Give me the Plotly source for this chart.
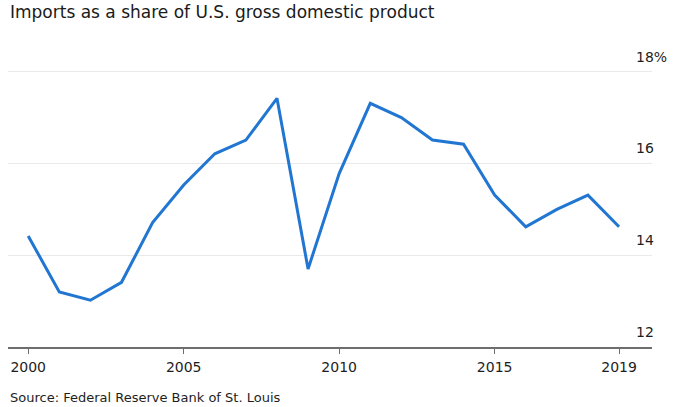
import plotly.graph_objects as go

years = list(range(2000, 2020))
imports_share = [14.42, 13.2, 13.02, 13.41, 14.71, 15.53, 16.21, 16.51, 17.42, 13.70,
                 15.78, 17.31, 17.0, 16.51, 16.42, 15.31, 14.62, 15.0, 15.31, 14.62]
x_tickvals = [2000, 2005, 2010, 2015, 2019]
y_tickvals = [12, 14, 16, 18]
y_ticktext = ["12", "14", "16", "18%"]

title_text = "Imports as a share of U.S. gross domestic product"
source_text = "Source: Federal Reserve Bank of St. Louis"

FONT = "DejaVu Sans"

fig = go.Figure()
fig.add_trace(go.Scatter(
    x=years, y=imports_share, mode="lines",
    line=dict(color="#2176d2", width=3),
    hoverinfo="x+y", showlegend=False,
))

W, H = 680, 407
left, right = 8, 28
top, bottom = 68, 60
plot_h = H - top - bottom

fig.update_layout(
    width=W, height=H,
    margin=dict(l=left, r=right, t=top, b=bottom, pad=0, autoexpand=False),
    paper_bgcolor="white", plot_bgcolor="white",
    font=dict(family=FONT, color="#222222"),
    xaxis=dict(
        range=[1999.35, 2020.06],
        tickvals=x_tickvals, ticktext=[str(v) for v in x_tickvals],
        showgrid=False, zeroline=False, automargin=False,
        showline=True, linecolor="#6e6e6e", linewidth=1.5,
        ticks="outside", ticklen=5, tickwidth=1, tickcolor="#6e6e6e",
        tickfont=dict(family=FONT, size=14, color="#1e1e1e"),
        ticklabelstandoff=1,
    ),
    yaxis=dict(
        range=[12, 18.08],
        side="right", automargin=False,
        tickvals=y_tickvals, ticktext=y_ticktext,
        showgrid=True, gridcolor="#e9e9e9", gridwidth=1,
        zeroline=False, showline=False, ticks="",
        tickfont=dict(family=FONT, size=14, color="#1e1e1e"),
        ticklabelposition="outside",
        ticklabelstandoff=-17,
        ticklabelshift=-15,
    ),
    annotations=[
        dict(
            text=title_text, xref="paper", yref="paper",
            x=0, y=1 + (top - 12.5) / plot_h,
            xanchor="left", yanchor="middle", showarrow=False,
            font=dict(family=FONT, size=17, color="#1a1a1a"),
        ),
        dict(
            text=source_text, xref="paper", yref="paper",
            x=0, y=-(397 - (H - bottom)) / plot_h,
            xanchor="left", yanchor="middle", showarrow=False,
            font=dict(family=FONT, size=13, color="#1e1e1e"),
        ),
    ],
)

fig.write_html(
    "out.html",
    config={"displayModeBar": False},
    post_script="document.body.style.margin='0px';document.body.style.overflow='hidden';",
)
